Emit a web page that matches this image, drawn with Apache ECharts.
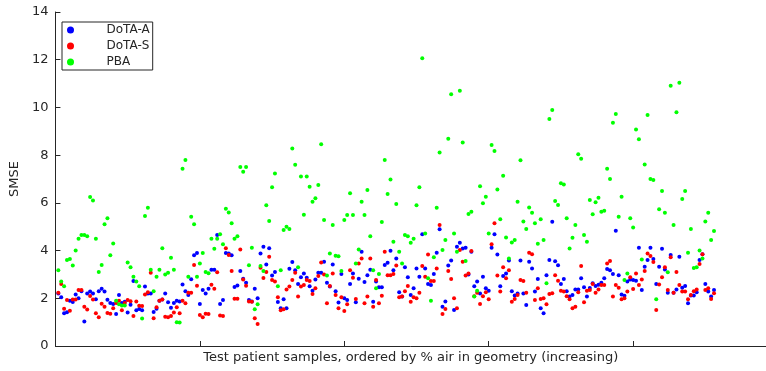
<!DOCTYPE html>
<html>
<head>
<meta charset="utf-8">
<script src="https://cdn.jsdelivr.net/npm/echarts@6/dist/echarts.min.js"></script>
<style>
  html, body { margin: 0; padding: 0; background: #fff; }
  #chart { width: 766px; height: 371px; }
</style>
</head>
<body>
<div id="chart"></div>
<script>
// one value per test sample, samples ordered left to right
const dotaA = [
  2.2, 2.04, 1.37, 1.41, 1.9, 1.84, 2.16, 2.0, 2.3, 1.03, 2.2, 2.28, 2.2, 1.96, 2.3, 2.4, 2.28, 1.94, 1.8, 1.76,
  1.34, 2.14, 1.8, 1.86, 1.4, 1.73, 2.72, 1.5, 1.55, 1.5, 2.49, 2.2, 2.2, 1.42, 1.56, 1.9, 1.95, 2.2, 1.83, 1.6,
  1.8, 1.9, 1.87, 2.58, 2.3, 2.14, 2.8, 3.8, 3.9, 1.76, 2.35, 2.2, 2.4, 3.2, 3.2, 4.65, 1.76, 1.93, 3.9, 3.88,
  3.8, 2.47, 2.54, 3.14, 2.82, 2.65, 1.93, 1.87, 2.4, 2.0, 3.88, 4.16, 3.42, 4.1, 2.95, 3.1, 1.84, 1.58, 1.96, 1.58,
  3.24, 3.52, 3.18, 2.6, 2.88, 3.04, 2.86, 2.5, 2.32, 2.79, 3.07, 3.07, 3.53, 2.65, 2.49, 3.42, 2.3, 1.82, 3.02, 2.0,
  1.93, 2.6, 3.04, 1.83, 2.82, 3.95, 2.68, 2.97, 3.2, 1.86, 2.7, 2.46, 2.46, 3.39, 3.49, 3.99, 3.18, 3.67, 2.25, 2.07,
  3.3, 2.88, 2.14, 2.42, 3.25, 2.9, 4.68, 3.25, 2.6, 2.56, 3.02, 3.91, 4.89, 1.65, 1.87, 3.37, 3.58, 1.51, 4.16, 4.33,
  4.09, 4.12, 3.0, 3.95, 2.5, 2.7, 2.2, 2.9, 2.42, 2.32, 4.12, 4.68, 3.84, 2.5, 2.93, 3.04, 3.58, 2.3, 2.12, 2.2,
  3.58, 2.2, 1.72, 3.53, 3.25, 2.28, 2.81, 1.58, 1.37, 2.97, 3.6, 5.21, 3.55, 3.38, 2.6, 2.81, 2.3, 2.07, 2.14, 2.37,
  2.37, 2.84, 2.46, 2.07, 2.43, 2.63, 2.51, 2.57, 2.65, 2.84, 3.23, 3.18, 3.02, 4.83, 2.97, 2.16, 2.11, 2.7, 2.79, 2.77,
  2.74, 4.12, 2.35, 3.32, 3.6, 4.12, 3.65, 2.6, 3.32, 4.08, 3.21, 2.23, 3.81, 2.23, 2.37, 3.74, 2.44, 2.51, 1.79, 2.12,
  2.12, 2.25, 3.6, 3.85, 2.6, 2.28, 2.07, 2.35
]
const dotaS = [
  2.23, 2.6, 1.56, 1.93, 1.48, 1.95, 1.95, 2.35, 2.35, 1.65, 1.53, 2.1, 1.95, 1.37, 1.21, 1.77, 1.65, 1.38, 1.35, 1.58,
  1.8, 1.9, 1.5, 1.8, 1.93, 1.88, 1.26, 1.87, 1.69, 1.68, 2.16, 2.25, 3.07, 1.16, 1.62, 1.9, 1.95, 1.23, 1.21, 1.26,
  1.4, 1.62, 1.37, 1.9, 1.79, 2.23, 2.23, 3.4, 2.53, 1.3, 1.2, 1.35, 1.34, 2.57, 2.4, 3.09, 1.28, 1.26, 4.1, 3.81,
  3.14, 1.98, 1.98, 4.04, 2.79, 2.53, 1.87, 1.86, 1.16, 0.92, 3.28, 2.85, 3.1, 3.74, 2.77, 2.7, 2.04, 1.5, 1.54, 2.37,
  2.49, 2.77, 3.07, 2.07, 2.49, 2.56, 2.77, 2.72, 2.18, 2.42, 2.93, 3.5, 3.0, 1.79, 2.51, 3.04, 2.14, 1.58, 2.04, 1.47,
  1.75, 3.18, 2.86, 1.97, 3.46, 3.67, 1.79, 2.07, 3.67, 1.65, 2.77, 1.79, 2.11, 3.95, 2.97, 2.97, 3.02, 3.37, 2.04, 2.07,
  2.3, 2.51, 1.86, 2.04, 2.0, 2.23, 3.35, 2.9, 3.84, 2.72, 2.72, 3.25, 5.07, 1.34, 1.55, 3.14, 2.81, 2.0, 1.58, 4.02,
  3.53, 2.95, 3.04, 3.98, 2.09, 2.23, 1.76, 2.09, 2.25, 1.96, 4.27, 5.14, 2.95, 2.28, 3.3, 2.84, 3.18, 1.86, 1.97, 2.14,
  2.77, 2.72, 2.23, 3.91, 3.85, 1.93, 2.42, 1.97, 2.0, 1.75, 2.18, 2.21, 2.97, 2.74, 2.32, 2.28, 2.09, 1.96, 1.58, 1.65,
  2.25, 3.35, 1.83, 2.32, 2.35, 2.6, 2.23, 2.37, 2.56, 2.56, 3.46, 3.56, 2.07, 2.56, 2.44, 1.96, 2.0, 2.28, 2.88, 2.39,
  3.04, 2.56, 2.79, 3.14, 3.88, 3.77, 3.52, 1.51, 2.58, 2.88, 3.3, 2.35, 3.72, 2.23, 3.1, 2.56, 2.28, 2.28, 1.96, 2.14,
  2.3, 2.37, 3.44, 3.85, 2.35, 2.42, 1.97, 2.21
]
const pba = [
  3.18, 2.7, 2.5, 3.6, 3.65, 3.37, 4.0, 4.5, 4.65, 4.65, 4.6, 6.25, 6.1, 4.5, 3.1, 3.4, 5.1, 5.35, 3.8, 4.3,
  1.9, 1.75, 1.7, 1.7, 3.5, 3.3, 2.9, 2.7, 2.5, 1.15, 5.45, 5.8, 3.2, 2.3, 2.9, 3.2, 4.1, 3.0, 3.07, 3.7,
  3.2, 1.0, 0.98, 7.43, 7.8, 2.9, 5.42, 5.1, 2.9, 3.46, 3.9, 3.1, 3.05, 4.5, 4.08, 4.5, 4.68, 4.26, 5.75, 5.6,
  5.14, 4.5, 4.6, 7.5, 7.3, 7.5, 3.38, 4.12, 1.54, 1.75, 3.35, 3.14, 5.9, 5.24, 6.65, 7.23, 2.5, 3.18, 4.86, 5.0,
  4.9, 8.28, 7.6, 3.3, 7.1, 5.5, 7.1, 6.68, 6.05, 6.19, 6.75, 8.46, 5.28, 2.96, 3.88, 5.07, 3.78, 3.76, 3.14, 5.28,
  5.49, 6.4, 5.49, 3.46, 4.05, 6.05, 5.49, 6.54, 4.6, 3.18, 2.42, 3.02, 5.2, 7.8, 6.37, 6.98, 4.37, 5.95, 3.95, 3.46,
  4.65, 4.6, 4.33, 4.5, 5.9, 6.65, 12.06, 4.72, 2.84, 1.9, 3.72, 5.8, 8.11, 4.02, 4.44, 8.69, 10.55, 4.72, 3.95, 10.7,
  8.53, 3.56, 5.53, 5.63, 2.07, 2.32, 6.7, 5.98, 6.26, 4.72, 8.42, 8.17, 6.56, 5.31, 7.14, 4.55, 3.67, 4.34, 4.44, 6.05,
  7.79, 5.22, 4.9, 5.81, 5.59, 5.14, 4.29, 5.31, 4.44, 2.63, 9.51, 9.89, 6.08, 5.91, 6.82, 6.77, 5.35, 4.09, 4.54, 5.07,
  8.04, 7.85, 4.65, 4.37, 6.12, 5.52, 6.03, 6.21, 5.63, 5.67, 7.43, 7.0, 9.36, 9.72, 5.42, 6.26, 2.77, 3.04, 5.35, 4.97,
  9.08, 8.67, 3.63, 7.61, 9.68, 7.0, 6.96, 1.96, 5.73, 6.5, 5.59, 3.09, 10.91, 5.07, 9.8, 11.03, 6.16, 6.5, 3.91, 4.9,
  3.27, 3.3, 4.0, 3.67, 5.22, 5.59, 4.44, 4.82
]
const seriesNames = ['DoTA-A', 'DoTA-S', 'PBA']
const seriesColors = ['#0000ff', '#ff0000', '#00ff00']
const yTicks = [0, 2, 4, 6, 8, 10, 12, 14]
const xTicks = [50, 100, 150, 200]

const axisColor = '#262626'
const font = 'DejaVu Sans'

const toPoints = vals => vals.map((v, i) => [i + 1, v])

const option = {
  animation: false,
  backgroundColor: '#fff',
  textStyle: { fontFamily: font },
  grid: { left: 52, right: 0, top: 12, bottom: 25 },
  legend: {
    left: 62,
    top: 22,
    orient: 'vertical',
    icon: 'circle',
    itemWidth: 10,
    itemHeight: 7,
    itemGap: 2,
    padding: [1, 3, 1, 5],
    borderColor: axisColor,
    borderWidth: 1,
    backgroundColor: '#fff',
    textStyle: { fontFamily: font, fontSize: 12, color: axisColor, padding: [0, 0, 0, 26], lineHeight: 14 },
    data: seriesNames
  },
  xAxis: {
    type: 'value',
    min: 0,
    max: 246,
    interval: 50,
    name: 'Test patient samples, ordered by % air in geometry (increasing)',
    nameLocation: 'middle',
    nameGap: 5,
    nameTextStyle: { fontFamily: font, fontSize: 13, color: axisColor },
    axisLine: { lineStyle: { color: axisColor, width: 1 } },
    axisTick: { inside: true, length: 5, customValues: xTicks, lineStyle: { color: axisColor } },
    axisLabel: { show: false },
    splitLine: { show: false }
  },
  yAxis: {
    type: 'value',
    min: 0,
    max: 14,
    interval: 2,
    name: 'SMSE',
    nameLocation: 'middle',
    nameGap: 25,
    nameTextStyle: { fontFamily: font, fontSize: 13, color: axisColor },
    axisLine: { show: true, lineStyle: { color: axisColor, width: 1 } },
    axisTick: { inside: true, length: 5, customValues: yTicks, lineStyle: { color: axisColor } },
    axisLabel: { fontFamily: font, fontSize: 13, color: axisColor, margin: 7, customValues: yTicks },
    splitLine: { show: false }
  },
  series: [dotaA, dotaS, pba].map((vals, k) => ({
    name: seriesNames[k],
    type: 'scatter',
    symbol: 'circle',
    symbolSize: 4,
    itemStyle: { color: seriesColors[k], opacity: 1 },
    data: toPoints(vals)
  }))
}

const chart = echarts.init(document.getElementById('chart'), null, { renderer: 'canvas' })
chart.setOption(option)
</script>
</body>
</html>
